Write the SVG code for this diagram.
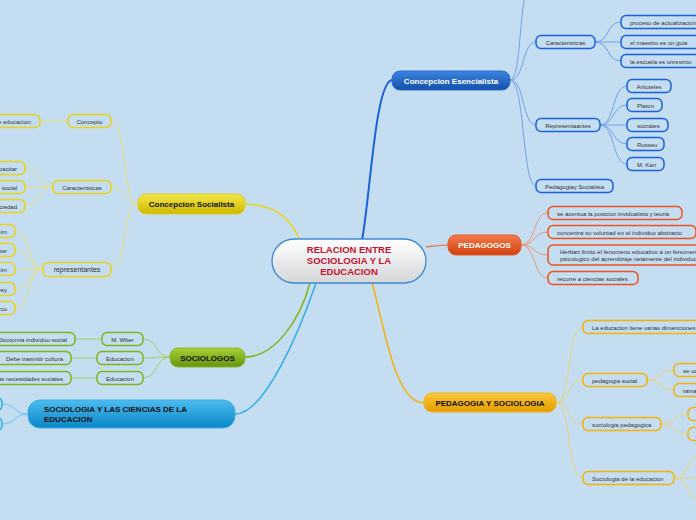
<svg xmlns="http://www.w3.org/2000/svg" width="696" height="520" viewBox="0 0 696 520">
<defs>
<linearGradient id="gC" x1="0" y1="0" x2="0" y2="1"><stop offset="0" stop-color="#ffffff"/><stop offset="1" stop-color="#d4d6d8"/></linearGradient>
<linearGradient id="gB" x1="0" y1="0" x2="0" y2="1"><stop offset="0" stop-color="#3c84e0"/><stop offset="1" stop-color="#1450a8"/></linearGradient>
<linearGradient id="gO" x1="0" y1="0" x2="0" y2="1"><stop offset="0" stop-color="#f47a4a"/><stop offset="1" stop-color="#d2400e"/></linearGradient>
<linearGradient id="gG" x1="0" y1="0" x2="0" y2="1"><stop offset="0" stop-color="#fcc83a"/><stop offset="1" stop-color="#e39c00"/></linearGradient>
<linearGradient id="gY" x1="0" y1="0" x2="0" y2="1"><stop offset="0" stop-color="#f2e648"/><stop offset="1" stop-color="#d0b800"/></linearGradient>
<linearGradient id="gV" x1="0" y1="0" x2="0" y2="1"><stop offset="0" stop-color="#a8d038"/><stop offset="1" stop-color="#64940e"/></linearGradient>
<linearGradient id="gS" x1="0" y1="0" x2="0" y2="1"><stop offset="0" stop-color="#4cbcf0"/><stop offset="1" stop-color="#0a86c6"/></linearGradient>
</defs>
<style>
text{font-family:"Liberation Sans",Arial,sans-serif}
.t{font-size:6px;fill:#333}
.m{font-size:8px;font-weight:bold}
.s rect{fill:#c4ddf0;stroke-width:1.5}
.b rect{stroke:#1a62dc}
.o rect{stroke:#ea5424}
.g rect{stroke:#f4b20a}
.y rect{stroke:#e8d418}
.v rect{stroke:#80b41e}
.c rect{stroke:#30aee8}
#links path{fill:none}
.lb{stroke:#6ea2ea;stroke-width:1}
.lo{stroke:#f0957a;stroke-width:1}
.lg{stroke:#f0d27a;stroke-width:1}
.ly{stroke:#e6e07a;stroke-width:1}
.lv{stroke:#a8cc60;stroke-width:1}
.lc{stroke:#6cc6ec;stroke-width:1}
</style>
<rect width="696" height="520" fill="#c4ddf0"/>

<g id="links">
<path d="M362 240 C370 200 375 82 392 80" stroke="#1a62dc" stroke-width="2"/>
<path d="M426 247 C435 246 440 245 448 245" stroke="#ea6a40" stroke-width="1.2"/>
<path d="M372 282 C385 330 395 403 424 403" stroke="#f4b20a" stroke-width="1.5"/>
<path d="M300 241 C290 215 270 204 245 204" stroke="#e8d418" stroke-width="1.5"/>
<path d="M310 283 C300 320 275 357 245 357" stroke="#80b41e" stroke-width="1.5"/>
<path d="M316 283 C300 330 265 414 235 414" stroke="#30aee8" stroke-width="1.5"/>

<path class="lb" d="M510 80 C522 80 518 0 530 -20"/>
<path class="lb" d="M510 80 C525 80 522 42 536 42"/>
<path class="lb" d="M510 80 C525 80 522 125 536 125"/>
<path class="lb" d="M510 80 C525 80 522 186 536 186"/>
<path class="lb" d="M595 42 C610 42 606 22 621 22"/>
<path class="lb" d="M595 42 C610 42 606 42 621 42"/>
<path class="lb" d="M595 42 C610 42 606 61 621 61"/>
<path class="lb" d="M600 125 C615 125 612 86 627 86"/>
<path class="lb" d="M600 125 C615 125 612 105 627 105"/>
<path class="lb" d="M600 125 C615 125 612 125 627 125"/>
<path class="lb" d="M600 125 C615 125 612 144 627 144"/>
<path class="lb" d="M600 125 C615 125 612 164 627 164"/>

<path class="lo" d="M521 245 C536 245 533 213 548 213"/>
<path class="lo" d="M521 245 C536 245 533 232 548 232"/>
<path class="lo" d="M521 245 C536 245 533 255 548 255"/>
<path class="lo" d="M521 245 C536 245 533 278 548 278"/>

<path class="lg" d="M556 403 C572 403 566 327 583 327"/>
<path class="lg" d="M556 403 C572 403 566 380 583 380"/>
<path class="lg" d="M556 403 C572 403 566 424 583 424"/>
<path class="lg" d="M556 403 C572 403 566 478 583 478"/>
<path class="lg" d="M647 380 C662 380 659 370 674 370"/>
<path class="lg" d="M647 380 C662 380 659 390 674 390"/>
<path class="lg" d="M661 424 C676 424 673 414 688 414"/>
<path class="lg" d="M661 424 C676 424 673 434 688 434"/>
<path class="lg" d="M674 478 C690 478 686 455 702 455"/>
<path class="lg" d="M674 478 C690 478 686 478 702 478"/>
<path class="lg" d="M674 478 C690 478 686 500 702 500"/>

<path class="ly" d="M138 204 C122 204 127 121 111 121"/>
<path class="ly" d="M138 204 C122 204 127 187 111 187"/>
<path class="ly" d="M138 204 C122 204 127 269 111 269"/>
<path class="ly" d="M68 121 L40 121"/>
<path class="ly" d="M53 187 C38 187 40 168 25 168"/>
<path class="ly" d="M53 187 C38 187 40 187 25 187"/>
<path class="ly" d="M53 187 C38 187 40 206 25 206"/>
<path class="ly" d="M43 269 C28 269 30 231 15 231"/>
<path class="ly" d="M43 269 C28 269 30 250 15 250"/>
<path class="ly" d="M43 269 C28 269 30 269 15 269"/>
<path class="ly" d="M43 269 C28 269 30 289 15 289"/>
<path class="ly" d="M43 269 C28 269 30 308 15 308"/>

<path class="lv" d="M170 357 C155 357 158 339 143 339"/>
<path class="lv" d="M170 357 C155 357 158 358 143 358"/>
<path class="lv" d="M170 357 C155 357 158 378 143 378"/>
<path class="lv" d="M102 339 L75 339"/>
<path class="lv" d="M97 358 L71 358"/>
<path class="lv" d="M97 378 L71 378"/>

<path class="lc" d="M28 414 C14 414 16 404 2 404"/>
<path class="lc" d="M28 414 C14 414 16 424 2 424"/>
</g>

<g id="center">
<rect x="272" y="239" width="154" height="44" rx="22" fill="url(#gC)" stroke="#3a8ad0" stroke-width="1.3"/>
<text x="349" y="253" text-anchor="middle" font-size="9.5" font-weight="bold" fill="#c8102e">RELACION ENTRE</text>
<text x="349" y="264" text-anchor="middle" font-size="9.5" font-weight="bold" fill="#c8102e">SOCIOLOGIA Y LA</text>
<text x="349" y="275" text-anchor="middle" font-size="9.5" font-weight="bold" fill="#c8102e">EDUCACION</text>
</g>

<g id="esencialista">
<rect x="392" y="71" width="118" height="19" rx="8" fill="url(#gB)" stroke="#2a6ad0"/>
<text class="m" x="451" y="84" text-anchor="middle" fill="#fff">Concepcion Esencialista</text>
</g>
<g id="es-car" class="s b"><rect x="536" y="35.5" width="59" height="13" rx="5"/><text class="t" x="565.5" y="44.5" text-anchor="middle">Caracteristicas</text></g>
<g id="es-c1" class="s b"><rect x="621" y="15.5" width="90" height="13" rx="5"/><text class="t" x="630" y="24.5">proceso de actualizacion</text></g>
<g id="es-c2" class="s b"><rect x="621" y="35.5" width="90" height="13" rx="5"/><text class="t" x="630" y="44.5">el maestro es un guia</text></g>
<g id="es-c3" class="s b"><rect x="621" y="54.5" width="90" height="13" rx="5"/><text class="t" x="630" y="63.5">la escuela es unresinto</text></g>
<g id="es-rep" class="s b"><rect x="536" y="118.5" width="64" height="13" rx="5"/><text class="t" x="568" y="127.5" text-anchor="middle">Representaantes</text></g>
<g id="es-r1" class="s b"><rect x="627" y="79.5" width="44" height="13" rx="5"/><text class="t" x="649" y="88.5" text-anchor="middle">Aritoteles</text></g>
<g id="es-r2" class="s b"><rect x="627" y="98.5" width="35" height="13" rx="5"/><text class="t" x="637" y="107.5">Platon</text></g>
<g id="es-r3" class="s b"><rect x="627" y="118.5" width="41" height="13" rx="5"/><text class="t" x="637" y="127.5">socrates</text></g>
<g id="es-r4" class="s b"><rect x="627" y="137.5" width="37" height="13" rx="5"/><text class="t" x="637" y="146.5">Russeu</text></g>
<g id="es-r5" class="s b"><rect x="627" y="157.5" width="37" height="13" rx="5"/><text class="t" x="637" y="166.5">M. Kan</text></g>
<g id="es-ped" class="s b"><rect x="536" y="179.5" width="77" height="13" rx="5"/><text class="t" x="545" y="188.5">Pedagogiay Socialista</text></g>

<g id="pedagogos">
<rect x="448" y="235" width="73" height="20" rx="8" fill="url(#gO)" stroke="#e05a2a"/>
<text class="m" x="484.5" y="248" text-anchor="middle" fill="#fff">PEDAGOGOS</text>
</g>
<g id="pe-1" class="s o"><rect x="548" y="206.5" width="134" height="13" rx="5"/><text class="t" x="557" y="215.5">se acentua la posicion invidualista y teoria</text></g>
<g id="pe-2" class="s o"><rect x="548" y="225.5" width="148" height="13" rx="5"/><text class="t" x="557" y="234.5">concentra su voluntad en el individuo abstracto</text></g>
<g id="pe-3" class="s o"><rect x="548" y="245" width="160" height="20" rx="5"/><text class="t" x="560" y="253.5">Herbart limito el fenomeno educativo a un fenomeno</text><text class="t" x="560" y="260.5">psicologico del aprendizaje netamente del individuo</text></g>
<g id="pe-4" class="s o"><rect x="548" y="271.5" width="90" height="13" rx="5"/><text class="t" x="557" y="280.5">recurre a ciencias sociales</text></g>

<g id="pedsoc">
<rect x="424" y="393" width="132" height="19" rx="8" fill="url(#gG)" stroke="#f0b418"/>
<text class="m" x="490" y="406" text-anchor="middle" fill="#111">PEDAGOGIA Y SOCIOLOGIA</text>
</g>
<g id="ps-1" class="s g"><rect x="583" y="320.5" width="125" height="13" rx="5"/><text class="t" x="592" y="329.5">La educacion tiene varias dimenciones</text></g>
<g id="ps-2" class="s g"><rect x="583" y="373.5" width="64" height="13" rx="5"/><text class="t" x="592" y="382.5">pedagogia social</text></g>
<g id="ps-2a" class="s g"><rect x="674" y="363.5" width="40" height="13" rx="5"/><text class="t" x="683" y="372.5">se uc</text></g>
<g id="ps-2b" class="s g"><rect x="674" y="383.5" width="40" height="13" rx="5"/><text class="t" x="683" y="392.5">rama</text></g>
<g id="ps-3" class="s g"><rect x="583" y="417.5" width="78" height="13" rx="5"/><text class="t" x="592" y="426.5">sociologia pedagogica</text></g>
<g id="ps-3a" class="s g"><rect x="688" y="407.5" width="30" height="13" rx="5"/></g>
<g id="ps-3b" class="s g"><rect x="688" y="427.5" width="30" height="13" rx="5"/></g>
<g id="ps-4" class="s g"><rect x="583" y="471.5" width="91" height="13" rx="5"/><text class="t" x="592" y="480.5">Sociologia de la educacion</text></g>

<g id="socialista">
<rect x="138" y="194" width="107" height="20" rx="8" fill="url(#gY)" stroke="#e0cc20"/>
<text class="m" x="191.5" y="207" text-anchor="middle" fill="#111">Concepcion Socialista</text>
</g>
<g id="so-con" class="s y"><rect x="68" y="114.5" width="43" height="13" rx="5"/><text class="t" x="89.5" y="123.5" text-anchor="middle">Concepto</text></g>
<g id="so-con1" class="s y"><rect x="-70" y="114.5" width="110" height="13" rx="5"/><text class="t" x="32" y="123.5" text-anchor="end">Concepto de educacion:</text></g>
<g id="so-car" class="s y"><rect x="53" y="180.5" width="58" height="13" rx="5"/><text class="t" x="82" y="189.5" text-anchor="middle">Caracteristicas</text></g>
<g id="so-c1" class="s y"><rect x="-40" y="161.5" width="65" height="13" rx="5"/><text class="t" x="17" y="170.5" text-anchor="end">capacitar</text></g>
<g id="so-c2" class="s y"><rect x="-40" y="180.5" width="65" height="13" rx="5"/><text class="t" x="17" y="189.5" text-anchor="end">social</text></g>
<g id="so-c3" class="s y"><rect x="-40" y="199.5" width="65" height="13" rx="5"/><text class="t" x="17" y="208.5" text-anchor="end">sociedad</text></g>
<g id="so-rep" class="s y"><rect x="43" y="262.5" width="68" height="14" rx="5"/><text x="77" y="272" text-anchor="middle" font-size="7" fill="#333">representantes</text></g>
<g id="so-r1" class="s y"><rect x="-40" y="224.5" width="55" height="13" rx="5"/><text class="t" x="7" y="233.5" text-anchor="end">Durkheim</text></g>
<g id="so-r2" class="s y"><rect x="-40" y="243.5" width="55" height="13" rx="5"/><text class="t" x="7" y="252.5" text-anchor="end">Weber</text></g>
<g id="so-r3" class="s y"><rect x="-40" y="262.5" width="55" height="13" rx="5"/><text class="t" x="7" y="271.5" text-anchor="end">Durkheim</text></g>
<g id="so-r4" class="s y"><rect x="-40" y="282.5" width="55" height="13" rx="5"/><text class="t" x="7" y="291.5" text-anchor="end">Dewey</text></g>
<g id="so-r5" class="s y"><rect x="-40" y="301.5" width="55" height="13" rx="5"/><text class="t" x="7" y="310.5" text-anchor="end">Marco</text></g>

<g id="sociologos">
<rect x="170" y="348" width="75" height="19" rx="8" fill="url(#gV)" stroke="#88b828"/>
<text class="m" x="207.5" y="360.5" text-anchor="middle" fill="#111">SOCIOLOGOS</text>
</g>
<g id="sg-1" class="s v"><rect x="102" y="332.5" width="41" height="13" rx="5"/><text class="t" x="122.5" y="341.5" text-anchor="middle">M. Wber</text></g>
<g id="sg-1a" class="s v"><rect x="-40" y="332.5" width="115" height="13" rx="5"/><text class="t" x="67" y="341.5" text-anchor="end">Dicotomia individuo-social</text></g>
<g id="sg-2" class="s v"><rect x="97" y="351.5" width="46" height="13" rx="5"/><text class="t" x="120" y="360.5" text-anchor="middle">Educacion</text></g>
<g id="sg-2a" class="s v"><rect x="-40" y="351.5" width="111" height="13" rx="5"/><text class="t" x="63" y="360.5" text-anchor="end">Debe trasmitir cultura</text></g>
<g id="sg-3" class="s v"><rect x="97" y="371.5" width="46" height="13" rx="5"/><text class="t" x="120" y="380.5" text-anchor="middle">Educacion</text></g>
<g id="sg-3a" class="s v"><rect x="-40" y="371.5" width="111" height="13" rx="5"/><text class="t" x="63" y="380.5" text-anchor="end">las necesidades sociales</text></g>

<g id="ciencias">
<rect x="28" y="400" width="207" height="28" rx="12" fill="url(#gS)" stroke="#38b0e8"/>
<text class="m" x="44" y="412" fill="#111">SOCIOLOGIA Y LAS CIENCIAS DE LA</text>
<text class="m" x="44" y="422" fill="#111">EDUCACION</text>
</g>
<g id="ci-1" class="s c"><rect x="-30" y="397.5" width="32" height="13" rx="5"/></g>
<g id="ci-2" class="s c"><rect x="-30" y="417.5" width="32" height="13" rx="5"/></g>
</svg>
